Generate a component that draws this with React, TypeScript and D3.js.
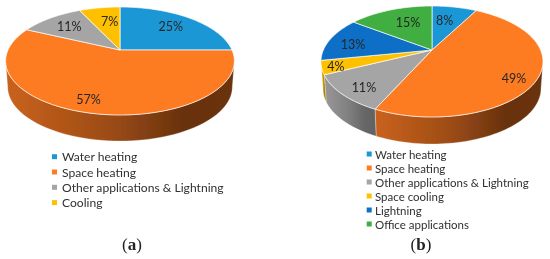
import React from "react";
import * as d3 from "d3";

// data
const namesA = ["Water heating", "Space heating", "Other applications & Lightning", "Cooling"];
const valuesA = [25, 57, 11, 7];
const colorsA = ["#1f97d6", "#fd7b23", "#a5a5a5", "#ffc000"];

const namesB = [
  "Water heating",
  "Space heating",
  "Other applications & Lightning",
  "Space cooling",
  "Lightning",
  "Office applications",
];
const valuesB = [8, 49, 11, 4, 13, 15];
const colorsB = ["#1f97d6", "#fd7b23", "#a5a5a5", "#ffc000", "#0f6fc6", "#3fae3f"];

const width = 550;
const height = 259;

// layout of each pie: vx/vy = drawn centre, back/front = rim distance from it
const layoutA = {
  id: "a",
  vx: 120,
  vy: 50,
  a: 112,
  back: 43,
  front: 65,
  depth: 26,
  labelR: 0.66,
  nudge: [[3, -1], [-13, 11], [-3, -1], [4, 1]],
  legendX: 52,
  legendTop: 156.7,
  legendStep: 15.3,
  legendFont: 12.1,
  legendGap: 10,
  captionX: 132,
  captionY: 250,
};
const layoutB = {
  id: "b",
  vx: 432,
  vy: 50,
  a: 108.6,
  back: 44,
  front: 67,
  depth: 27,
  labelR: 0.66,
  nudge: [[-3, 0], [14, 12], [-12, 10], [-25, 5], [-11, 1.5], [5, 0]],
  legendX: 366.7,
  legendTop: 154,
  legendStep: 14,
  legendFont: 11.5,
  legendGap: 8.3,
  captionX: 421,
  captionY: 250,
};

function shade(color: string, t: number) {
  const c = d3.rgb(color);
  return d3.rgb(c.r * t, c.g * t, c.b * t).formatHex();
}

function Pie({ names, values, colors, layout }: any) {
  const { id, vx, vy, a, back, front, depth } = layout;
  // projective tilt, the rim stays an ellipse but the centre sits off-middle
  const k = -(front - back) / (front + back);
  const b = back * (1 - k);
  const project = (theta: number, r = 1) => {
    const u = r * Math.sin(theta);
    const v = -r * Math.cos(theta);
    const w = 1 + k * v;
    return [vx + (a * u) / w, vy + (b * v) / w];
  };
  const projectLow = (theta: number) => {
    const [x, y] = project(theta);
    return [vx + (x - vx) * 0.982, y + depth];
  };

  const arcs = d3.pie<number>().sort(null)(values);
  const line = d3.line();
  const sample = (t0: number, t1: number, n = 60) =>
    d3.range(n + 1).map((i) => t0 + ((t1 - t0) * i) / n);

  const sideStart = Math.acos(k);
  const sideEnd = 2 * Math.PI - sideStart;
  const sides = arcs
    .map((d, i) => {
      const t0 = Math.max(d.startAngle, sideStart);
      const t1 = Math.min(d.endAngle, sideEnd);
      if (t1 <= t0) return null;
      const ts = sample(t0, t1);
      const pts = [...ts.map((t) => project(t)), ...ts.reverse().map(projectLow)];
      const xs = d3.extent(pts, (p) => p[0]) as number[];
      return { i, path: line(pts as any) + "Z", xs };
    })
    .filter(Boolean) as any[];

  return (
    <g>
      <defs>
        {sides.map((s) => {
          const base = colors[s.i];
          // the large orange wall falls off much deeper than the small ones
          const ramp = s.i === 1 ? [0.8, 0.62, 0.41, 0.42] : [0.92, 0.78, 0.62, 0.6];
          return (
            <linearGradient
              key={s.i}
              id={`side-${id}-${s.i}`}
              gradientUnits="userSpaceOnUse"
              x1={s.xs[0]}
              x2={s.xs[1]}
              y1={0}
              y2={0}
            >
              <stop offset="0" stopColor={shade(base, ramp[0])} />
              <stop offset="0.45" stopColor={shade(base, ramp[1])} />
              <stop offset="0.78" stopColor={shade(base, ramp[2])} />
              <stop offset="1" stopColor={shade(base, ramp[3])} />
            </linearGradient>
          );
        })}
        <filter id={`soft-${id}`} x="-5%" y="-5%" width="110%" height="110%">
          <feGaussianBlur stdDeviation={0.3} />
        </filter>
      </defs>
      <g filter={`url(#soft-${id})`}>
        {sides.map((s) => (
          <path key={s.i} d={s.path} fill={`url(#side-${id}-${s.i})`} stroke="#fff" strokeOpacity={0.6} strokeWidth={0.5} />
        ))}
        {arcs.map((d, i) => (
          <path
            key={i}
            d={line([[vx, vy], ...sample(d.startAngle, d.endAngle).map((t) => project(t))] as any) + "Z"}
            fill={colors[i]}
            stroke="#fff"
            strokeOpacity={0.85}
            strokeWidth={0.8}
            strokeLinejoin="round"
          />
        ))}
        {arcs.map((d, i) => {
          const [x, y] = project((d.startAngle + d.endAngle) / 2, layout.labelR);
          return (
            <text
              key={i}
              x={x + layout.nudge[i][0]}
              y={y + layout.nudge[i][1]}
              textAnchor="middle"
              dominantBaseline="central"
              fontFamily="Lato, sans-serif"
              fontSize={12.5}
              fill="#262626"
            >
              {values[i]}%
            </text>
          );
        })}
        {names.map((name: string, i: number) => {
          const y = layout.legendTop + i * layout.legendStep;
          return (
            <g key={name}>
              <rect x={layout.legendX} y={y - 2.5} width={5} height={5} fill={colors[i]} />
              <text
                x={layout.legendX + layout.legendGap}
                y={y}
                dominantBaseline="central"
                fontFamily="Lato, sans-serif"
                fontSize={layout.legendFont}
                fill="#303030"
              >
                {name}
              </text>
            </g>
          );
        })}
        <text x={layout.captionX} y={layout.captionY} textAnchor="middle" fontFamily="'Liberation Serif', serif" fontSize={17} fill="#222">
          (<tspan fontWeight="bold">{id}</tspan>)
        </text>
      </g>
    </g>
  );
}

export default function App() {
  return (
    <svg width={width} height={height} style={{ position: "absolute", left: 0, top: 0, background: "#fff" }}>
      <Pie names={namesA} values={valuesA} colors={colorsA} layout={layoutA} />
      <Pie names={namesB} values={valuesB} colors={colorsB} layout={layoutB} />
    </svg>
  );
}
